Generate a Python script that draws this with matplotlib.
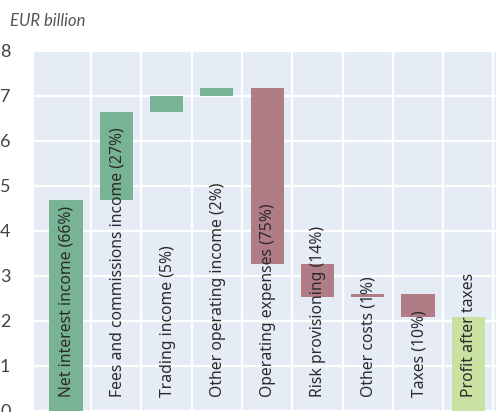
import matplotlib.pyplot as plt
import numpy as np

categories = [
    "Net interest income (66%)",
    "Fees and commissions income (27%)",
    "Trading income (5%)",
    "Other operating income (2%)",
    "Operating expenses (75%)",
    "Risk provisioning (14%)",
    "Other costs (1%)",
    "Taxes (10%)",
    "Profit after taxes",
]

# step of each bar in EUR billion, last one is the total
changes = [4.68, 1.95, 0.36, 0.18, -3.91, -0.73, 0.07, -0.53]
profit = 2.07
kinds = ["income"] * 4 + ["cost"] * 4 + ["total"]

colors = {"income": "#77b394", "cost": "#b07d86", "total": "#c9e2a1"}

# waterfall bases
bottoms = []
heights = []
level = 0.0
for c in changes:
    new = level + c
    bottoms.append(min(level, new))
    heights.append(abs(c))
    level = new
bottoms.append(0.0)
heights.append(profit)

fig = plt.figure(figsize=(4.96, 4.12), dpi=100)
ax = fig.add_axes([34 / 496, 0, 1 - 34 / 496, 1 - 50.6 / 412])
ax.set_facecolor("#e5ecf6")

x = np.arange(len(categories))
ax.bar(x, heights, bottom=bottoms, width=0.66,
       color=[colors[k] for k in kinds], zorder=2)

for xi, label in zip(x, categories):
    ax.text(xi + 0.02, 0.30, label, rotation=90, ha="center", va="bottom",
            fontsize=11.3, family="Noto Sans", color="#2a2a2a", zorder=3)

ax.set_xlim(-0.636, 8.55)
ax.set_ylim(-0.031, 8)
ax.set_yticks(range(0, 9))
ax.set_xticks(np.arange(len(categories)) + 0.5)
ax.set_xticklabels([])
ax.grid(True, color="white", linewidth=1.6, zorder=1)
ax.set_axisbelow(True)
ax.tick_params(axis="both", length=0, pad=17)
for lab in ax.get_yticklabels():
    lab.set_fontfamily("Lato")
    lab.set_fontsize(13)
    lab.set_color("#444444")
for s in ax.spines.values():
    s.set_visible(False)

fig.text(10 / 496, 1 - 21 / 412, "EUR billion", style="italic",
         family="Lato", fontsize=12, color="#555555", va="center")

plt.savefig("out.png", dpi=100)
